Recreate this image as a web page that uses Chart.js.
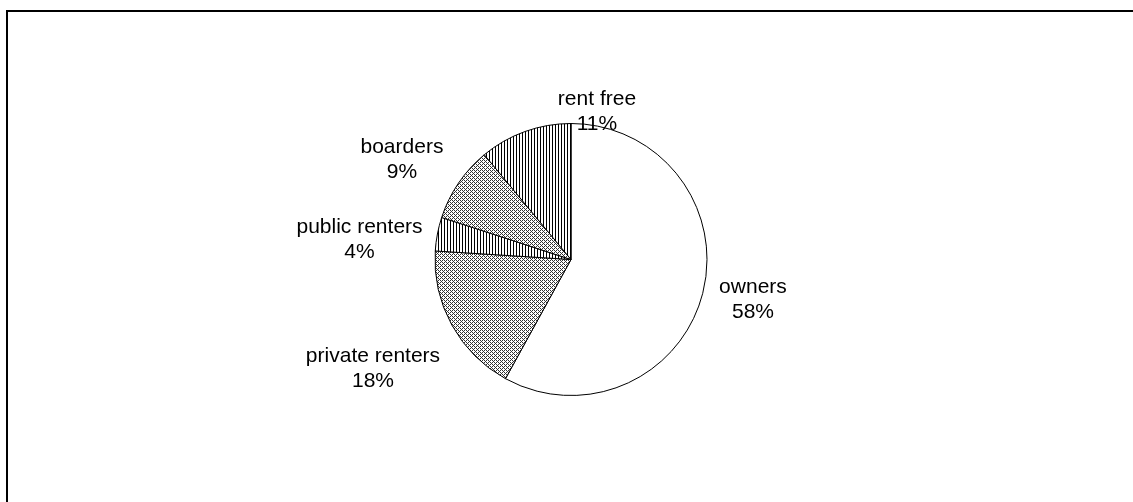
<!DOCTYPE html>
<html><head><meta charset="utf-8">
<script src="https://cdn.jsdelivr.net/npm/chart.js@4.4.0/dist/chart.umd.min.js"></script>
<style>html,body{margin:0;padding:0;background:#fff;} canvas{display:block;}</style>
</head><body>
<canvas id="c" width="1133" height="502"></canvas>
<script>
// ---- data ----
const categories = ['owners', 'private renters', 'public renters', 'boarders', 'rent free'];
const shares = [58, 18, 4, 9, 11];
const percentLabels = ['58%', '18%', '4%', '9%', '11%'];

// ---- styling / layout (not data) ----
const fillKinds = ['white', 'diag', 'vlines', 'diag', 'vlines'];
// label centre offsets relative to pie centre, in units of pie radius
const labelOffsets = [[1.338, 0.279], [-1.456, 0.79], [-1.555, -0.162], [-1.243, -0.75], [0.191, -1.103]];

function makePattern(kind) {
  if (kind === 'white') return '#ffffff';
  const c = document.createElement('canvas');
  const g = c.getContext('2d');
  if (kind === 'vlines') {
    c.width = 3; c.height = 1;
    g.fillStyle = '#fff'; g.fillRect(0, 0, 3, 1);
    g.fillStyle = '#000'; g.fillRect(0, 0, 1, 1);
  } else {
    c.width = 4; c.height = 4;
    g.fillStyle = '#fff'; g.fillRect(0, 0, 4, 4);
    g.fillStyle = '#333';
    for (let y = 0; y < 4; y++) for (let x = 0; x < 4; x++) {
      if (((x - y + 8) % 4) === 0 || ((x + y) % 4) === 2) g.fillRect(x, y, 1, 1);
    }
  }
  return g.createPattern(c, 'repeat');
}

const framePlugin = {
  id: 'frame',
  beforeDraw(chart) {
    const ctx = chart.ctx;
    ctx.save();
    ctx.fillStyle = '#fff';
    ctx.fillRect(0, 0, chart.width, chart.height);
    ctx.fillStyle = '#000';
    ctx.fillRect(6, 10, 2, chart.height);
    ctx.fillRect(6, 10, chart.width, 2);
    ctx.restore();
  }
};

const labelPlugin = {
  id: 'sliceLabels',
  afterDatasetsDraw(chart) {
    const ctx = chart.ctx;
    const meta = chart.getDatasetMeta(0);
    ctx.save();
    ctx.font = '21px "Liberation Sans", Arial, sans-serif';
    ctx.fillStyle = '#000';
    ctx.textAlign = 'center';
    ctx.textBaseline = 'middle';
    meta.data.forEach((arc, i) => {
      const r = arc.outerRadius;
      const x = arc.x + labelOffsets[i][0] * r;
      const y = arc.y + labelOffsets[i][1] * r;
      ctx.fillText(categories[i], x, y - 10.5);
      ctx.fillText(percentLabels[i], x, y + 14.5);
    });
    ctx.restore();
  }
};

new Chart(document.getElementById('c'), {
  type: 'pie',
  data: {
    labels: categories,
    datasets: [{
      data: shares,
      backgroundColor: fillKinds.map(makePattern),
      borderColor: '#000',
      borderWidth: 1
    }]
  },
  options: {
    responsive: false,
    animation: false,
    layout: { padding: { left: 300, right: 291, top: 123, bottom: 106 } },
    plugins: { legend: { display: false }, tooltip: { enabled: false } }
  },
  plugins: [framePlugin, labelPlugin]
});
</script>
</body></html>
